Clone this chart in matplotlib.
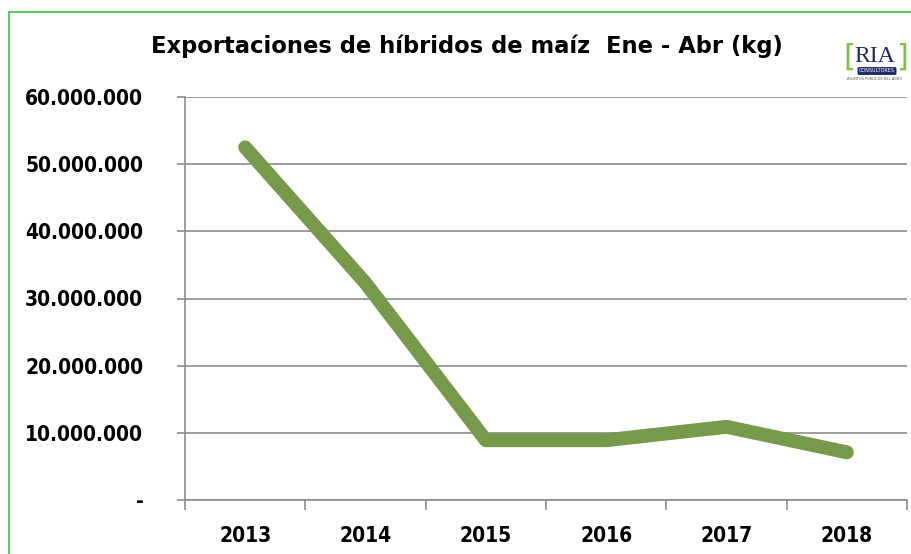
import matplotlib.pyplot as plt
from matplotlib.patches import Rectangle
from matplotlib.ticker import FuncFormatter

years = ['2013', '2014', '2015', '2016', '2017', '2018']
kg = [52500000, 32300000, 8900000, 8900000, 10900000, 7100000]
yticks = [0, 10000000, 20000000, 30000000, 40000000, 50000000, 60000000]

W, H = 911, 554
fig = plt.figure(figsize=(W / 100, H / 100), dpi=100)

# green frame, only left and top edges show
fig.patches.append(Rectangle((9 / W, -0.1), 1.0, 1 - 12 / H + 0.1,
                             transform=fig.transFigure, fill=False,
                             edgecolor='#3cc43c', lw=1.2))

ax = fig.add_axes([185 / W, 54 / H, (907 - 185) / W, (500 - 97) / H])
x = [i + 0.5 for i in range(len(years))]
ax.plot(x, kg, color='#77994a', lw=10, solid_capstyle='round',
        solid_joinstyle='round', zorder=3)

ax.set_xlim(0, 6)
ax.set_ylim(0, 60000000)
ax.set_yticks(yticks)
ax.yaxis.set_major_formatter(FuncFormatter(
    lambda v, p: '-' if v == 0 else f'{int(v):,}'.replace(',', '.')))
ax.grid(axis='y', color='#8c8c8c', lw=1.2)
ax.set_axisbelow(True)

ax.set_xticks(range(7))
ax.set_xticklabels([])
ax.set_xticks(x, minor=True)
ax.set_xticklabels(years, minor=True)
ax.tick_params(axis='x', which='major', direction='out', length=7,
               color='#8c8c8c', width=1.2)
ax.tick_params(axis='x', which='minor', length=0, pad=19)
ax.tick_params(axis='y', direction='out', length=6, color='#8c8c8c',
               width=1.2, pad=24)
for lab in ax.get_xticklabels(minor=True) + ax.get_yticklabels():
    lab.set_fontweight('bold')
    lab.set_fontsize(15)
    lab.set_fontstretch('condensed')

for s in ['top', 'right']:
    ax.spines[s].set_visible(False)
for s in ['left', 'bottom']:
    ax.spines[s].set_color('#8c8c8c')
    ax.spines[s].set_linewidth(1.2)

fig.text(467 / W, 1 - 46 / H, 'Exportaciones de híbridos de maíz  Ene - Abr (kg)',
         ha='center', va='center', fontsize=16.3, fontweight='bold')

# logo
lx, ly = 875 / W, 1 - 57 / H
fig.text(lx, ly, 'RIA', ha='center', va='center', fontsize=17,
         family='Liberation Serif', color='#1f2a6b')
fig.text(lx - 26 / W, ly, '[', ha='center', va='center', fontsize=22,
         color='#7dc142', family='DejaVu Sans')
fig.text(lx + 27 / W, ly, ']', ha='center', va='center', fontsize=22,
         color='#7dc142', family='DejaVu Sans')
fig.text(lx + 2 / W, ly - 14 / H, 'CONSULTORES', ha='center', va='center',
         fontsize=3.5, color='white',
         bbox=dict(boxstyle='round,pad=0.3', fc='#1f2a6b', ec='none'))
fig.text(lx, ly - 22 / H, 'ASUNTOS PÚBLICOS DEL AGRO', ha='center',
         va='center', fontsize=2.5, color='#555555')

fig.savefig('out.png', dpi=100)
